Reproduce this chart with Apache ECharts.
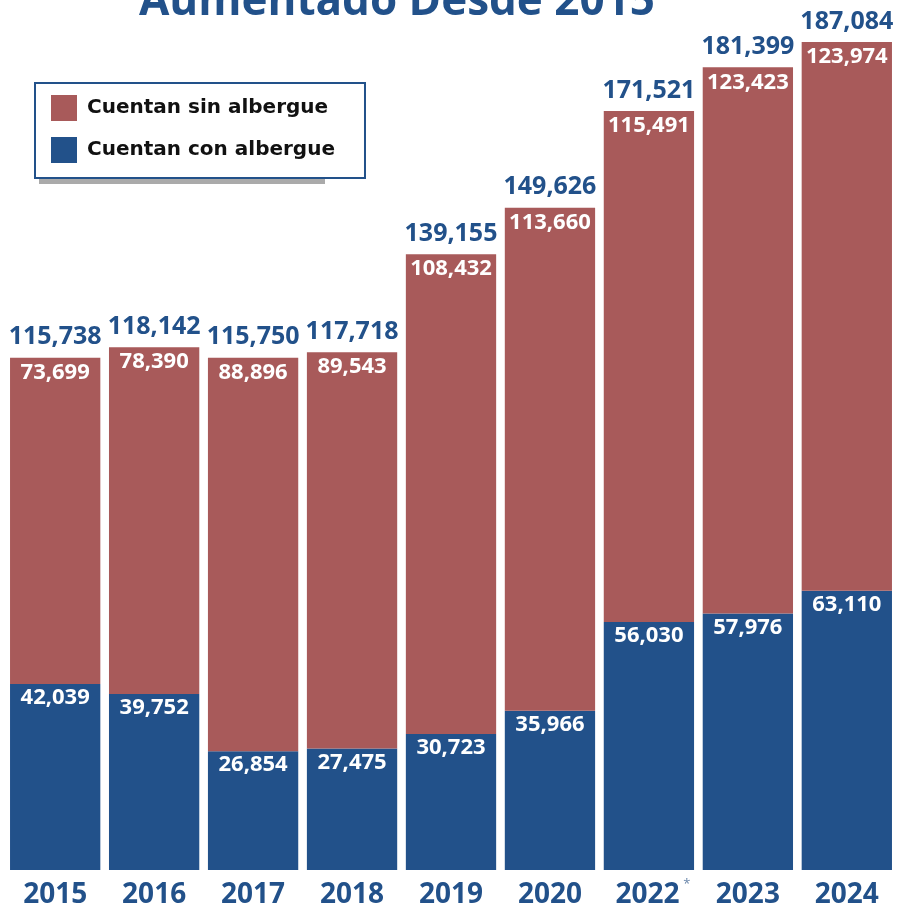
<!DOCTYPE html>
<html><head><meta charset="utf-8">
<script src="https://cdn.jsdelivr.net/npm/echarts@6/dist/echarts.min.js"></script>
<style>html,body{margin:0;padding:0;background:#fff;}#c{width:906px;height:909px;}</style>
</head><body><div id="c"></div>
<script>
const years = ['2015','2016','2017','2018','2019','2020','2022','2023','2024'];
const sinAlbergue = [73699,78390,88896,89543,108432,113660,115491,123423,123974];
const conAlbergue = [42039,39752,26854,27475,30723,35966,56030,57976,63110];
const totals = [115738,118142,115750,117718,139155,149626,171521,181399,187084];
const titleText = 'Aumentado Desde 2015';
const footnoteYear = '2022';

const RED = '#a85a5a', BLUE = '#22518a';
const FONT = '"Open Sans", sans-serif';
const fmt = v => v.toLocaleString('en-US');

const chart = echarts.init(document.getElementById('c'));
chart.setOption({
  animation:false,
  backgroundColor:'#fff',
  graphic:[
    {type:'text', left:139, top:-20, style:{text:titleText, fill:BLUE, font:'bold 44px "Open Sans", sans-serif'}},
    {type:'rect', shape:{x:39,y:179,width:286,height:5}, style:{fill:'#aaaaaa'}, z:-1}
  ],
  legend:{
    data:['Cuentan sin albergue','Cuentan con albergue'],
    orient:'vertical', left:35, top:83,
    backgroundColor:'#fff', borderColor:BLUE, borderWidth:2, borderRadius:0,
    padding:[12,30,15,16], itemGap:16, itemWidth:26, itemHeight:26,
    icon:'rect',
    textStyle:{fontFamily:'"DejaVu Sans", sans-serif', fontWeight:'bold', fontSize:20, color:'#111', padding:[0,0,0,5]}
  },
  grid:{left:5.7, right:9.7, top:0, bottom:36.3, containLabel:false},
  xAxis:{
    type:'category', data:years,
    axisLine:{show:false}, axisTick:{show:false},
    axisLabel:{
      interval:0,
      margin:8,
      formatter: v => v===footnoteYear ? '{p|}{y|'+v+'}{s|*}' : '{y|'+v+'}',
      rich:{
        p:{width:9, fontSize:11, lineHeight:34},
        y:{fontFamily:FONT, fontWeight:'bold', fontSize:28, color:BLUE, lineHeight:34},
        s:{fontFamily:FONT, fontSize:13, color:'#6a86aa', width:9, align:'left', padding:[0,0,0,3], lineHeight:10, verticalAlign:'top'}
      }
    }
  },
  yAxis:{type:'value', min:0, max:196600, show:false, splitLine:{show:false}},
  series:[
    {
      name:'Cuentan con albergue', type:'bar', stack:'t', data:conAlbergue,
      barWidth:90.3, itemStyle:{color:BLUE},
      label:{show:true, position:'insideTop', distance:3, formatter:p=>fmt(p.value),
        fontFamily:FONT, fontWeight:'bold', fontSize:22, color:'#fff'}
    },
    {
      name:'Cuentan sin albergue', type:'bar', stack:'t', data:sinAlbergue,
      barWidth:90.3, itemStyle:{color:RED},
      label:{show:true, position:'insideTop', distance:4, formatter:p=>fmt(p.value),
        fontFamily:FONT, fontWeight:'bold', fontSize:22, color:'#fff'}
    },
    {
      name:'Total', type:'bar', stack:'t', data:totals.map(()=>0),
      barWidth:90.3, itemStyle:{color:'transparent'}, silent:true,
      label:{show:true, position:'top', distance:8, formatter:p=>fmt(totals[p.dataIndex]),
        fontFamily:FONT, fontWeight:'bold', fontSize:25, color:BLUE}
    }
  ]
});
</script></body></html>
